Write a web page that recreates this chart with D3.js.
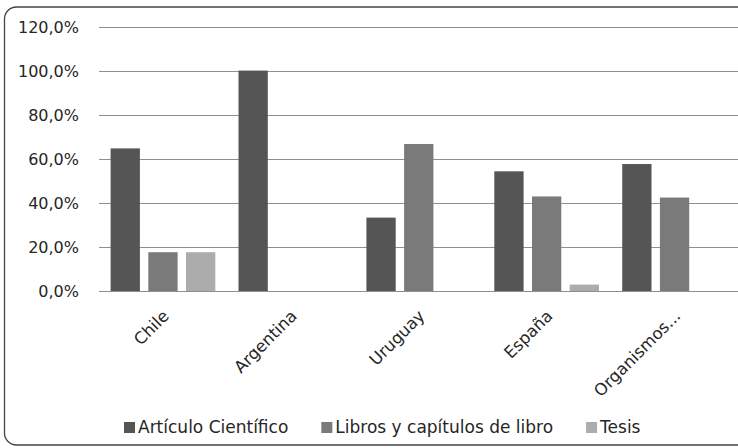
<!DOCTYPE html>
<html>
<head>
<meta charset="utf-8">
<script src="https://cdn.jsdelivr.net/npm/d3@7"></script>
<style>
  body { margin: 0; background: #fff; }
  text { font-family: "DejaVu Sans", sans-serif; fill: #262626; }
</style>
</head>
<body>
<script>
// data
var categories = ["Chile", "Argentina", "Uruguay", "España", "Organismos..."];
var series = ["Artículo Científico", "Libros y capítulos de libro", "Tesis"];
var articulo = [0.647, 1.0, 0.333, 0.543, 0.576];
var libros = [0.176, 0, 0.667, 0.429, 0.424];
var tesis = [0.176, 0, 0, 0.029, 0];
var yTicks = [0, 0.2, 0.4, 0.6, 0.8, 1.0, 1.2];
var colors = ["#555555", "#7a7a7a", "#acacac"];

var svgWidth = 738;
var svgHeight = 448;

var margin = { top: 26.5, left: 99, bottom: 291 };

var svg = d3.select("body")
    .append("svg")
    .attr("width", svgWidth)
    .attr("height", svgHeight);

// rounded frame, cropped at the right like the original
svg.append("rect")
    .attr("x", 4.5)
    .attr("y", 7)
    .attr("width", 800)
    .attr("height", 438)
    .attr("rx", 12)
    .attr("fill", "#fff")
    .attr("stroke", "#444")
    .attr("stroke-width", 1.3);

// scales
var x0 = d3.scaleBand()
    .domain(categories)
    .range([margin.left, margin.left + 5 * 127.9]);

var x1 = d3.scaleBand()
    .domain(series)
    .range([0, x0.bandwidth()])
    .paddingInner(0.223)
    .paddingOuter(0.308);

var y = d3.scaleLinear()
    .domain([0, 1.2])
    .range([margin.bottom, margin.top]);

var color = d3.scaleOrdinal().domain(series).range(colors);

var fmt = function(v) { return d3.format(".1f")(v * 100).replace(".", ",") + "%"; };

// gridlines
svg.append("g")
    .selectAll("line")
    .data(yTicks)
    .enter()
    .append("line")
    .attr("x1", margin.left)
    .attr("x2", svgWidth)
    .attr("y1", d => Math.round(y(d)) + 0.5)
    .attr("y2", d => Math.round(y(d)) + 0.5)
    .attr("stroke", "#8f8f8f")
    .attr("stroke-width", 1.2);

// y axis labels
var leftaxis = d3.axisLeft(y).tickValues(yTicks).tickFormat(fmt).tickSize(0).tickPadding(0);
var yAxis = svg.append("g")
    .attr("transform", "translate(79, 0)")
    .call(leftaxis);
yAxis.select(".domain").remove();
yAxis.selectAll("text")
    .style("font-family", null)
    .style("font-size", "16px")
    .attr("fill", null)
    .attr("dy", "0.36em");

// bars
var rows = categories.map(function(c, i) {
    return { cat: c, values: [articulo[i], libros[i], tesis[i]] };
});

var groups = svg.append("g")
    .selectAll("g")
    .data(rows)
    .enter()
    .append("g")
    .attr("transform", d => `translate(${x0(d.cat)}, 0)`);

groups.selectAll("rect")
    .data(d => d.values.map((v, j) => ({ key: series[j], value: v })).filter(e => e.value > 0))
    .enter()
    .append("rect")
    .attr("x", d => x1(d.key))
    .attr("width", x1.bandwidth())
    .attr("y", d => y(d.value))
    .attr("height", d => y(0) - y(d.value))
    .attr("fill", d => color(d.key));

// category labels, rotated
svg.append("g")
    .selectAll("text")
    .data(categories)
    .enter()
    .append("text")
    .attr("transform", d => `translate(${x0(d) + x0.bandwidth() / 2 + 7}, ${y(0) + 26}) rotate(-45)`)
    .attr("text-anchor", "end")
    .style("font-size", "16.5px")
    .text(d => d);

// legend
var legend = svg.append("g").attr("transform", "translate(124, 433)");
var lx = 0;
series.forEach(function(s, i) {
    var item = legend.append("g").attr("transform", `translate(${lx}, 0)`);
    item.append("rect")
        .attr("x", 0)
        .attr("y", -11)
        .attr("width", 11)
        .attr("height", 11)
        .attr("fill", colors[i]);
    var t = item.append("text")
        .attr("x", 14)
        .style("font-size", "17px")
        .text(s);
    lx += 14 + t.node().getComputedTextLength() + 33;
});
</script>
</body>
</html>
